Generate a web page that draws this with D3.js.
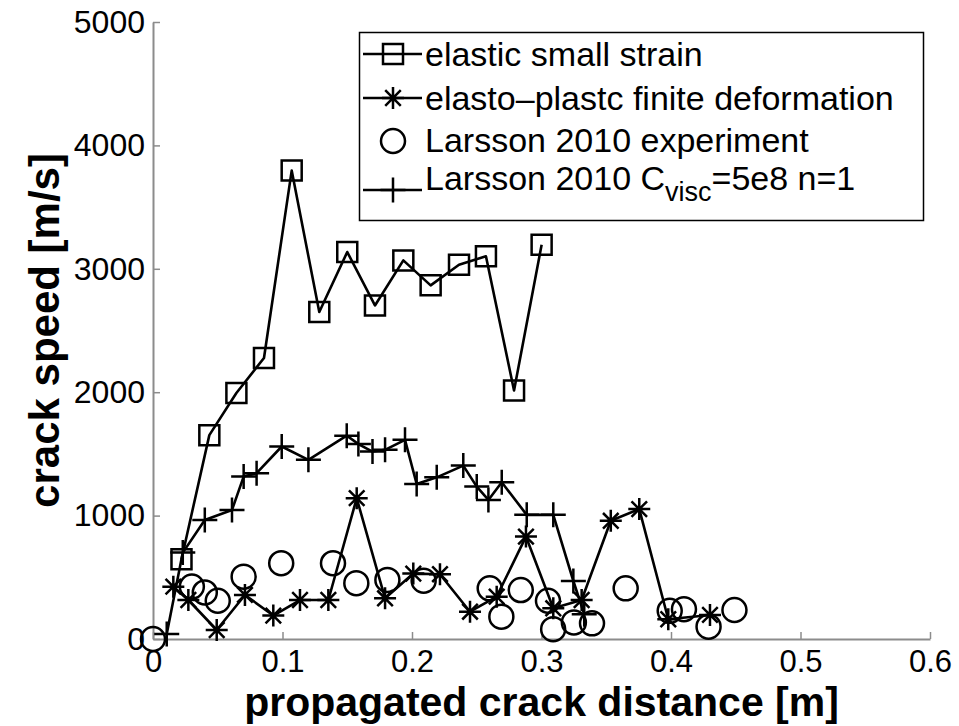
<!DOCTYPE html>
<html>
<head>
<meta charset="utf-8">
<script src="https://cdn.jsdelivr.net/npm/d3@7"></script>
<style>
  body { margin: 0; background: #fff; }
  svg { display: block; }
  text { font-family: "Liberation Sans", Arial, Helvetica, sans-serif; fill: #000; }
</style>
</head>
<body>
<svg id="chart" width="959" height="726"></svg>
<script>
// Crack speed versus propagated crack distance

// elastic small strain (squares)
const elasticX = [0.022, 0.0435, 0.0644, 0.0857, 0.1071, 0.1284, 0.150, 0.1714, 0.1933, 0.2144, 0.2363, 0.2571, 0.2788, 0.3001];
const elasticY = [646, 1652, 1993, 2277, 3796, 2650, 3136, 2703, 3068, 2866, 3033, 3101, 2014, 3195];

// elasto-plastic finite deformation (asterisks)
const plasticX = [0.0157, 0.0273, 0.0492, 0.071, 0.0929, 0.1135, 0.1354, 0.1573, 0.1792, 0.201, 0.2216, 0.2448, 0.2654, 0.288, 0.3091, 0.331, 0.3535, 0.3755, 0.3979, 0.4301];
const plasticY = [424, 316, 73, 357, 190, 316, 316, 1141, 330, 530, 525, 221, 343, 830, 249, 316, 958, 1053, 160, 195];

// Larsson 2010 experiment (circles, markers only)
const experimentX = [0, 0.030, 0.040, 0.050, 0.070, 0.099, 0.139, 0.157, 0.181, 0.209, 0.260, 0.269, 0.284, 0.305, 0.309, 0.325, 0.339, 0.365, 0.399, 0.410, 0.429, 0.449];
const experimentY = [0, 425, 377, 310, 505, 614, 614, 452, 479, 472, 411, 181, 397, 310, 80, 134, 127, 411, 228, 242, 100, 235];

// Larsson 2010 viscous model (plus signs)
const viscousX = [0.0106, 0.023, 0.040, 0.061, 0.070, 0.080, 0.0994, 0.120, 0.1496, 0.1586, 0.1695, 0.1792, 0.1946, 0.2036, 0.2191, 0.2396, 0.250, 0.259, 0.2693, 0.2886, 0.3091, 0.3246, 0.333];
const viscousY = [40, 700, 965, 1046, 1316, 1344, 1560, 1452, 1648, 1580, 1519, 1533, 1614, 1256, 1310, 1405, 1235, 1127, 1270, 1006, 1006, 470, 200];

// axis ticks
const xTicks = [0, 0.1, 0.2, 0.3, 0.4, 0.5, 0.6];
const xTickLabels = ["0", "0.1", "0.2", "0.3", "0.4", "0.5", "0.6"];
const yTicks = [0, 1000, 2000, 3000, 4000, 5000];
const yTickLabels = ["0", "1000", "2000", "3000", "4000", "5000"];

const svg = d3.select("#chart");

const x = d3.scaleLinear().domain([0, 0.6]).range([153, 930]);
const y = d3.scaleLinear().domain([0, 5000]).range([639, 22]);

const axisColor = "#8c8c8c";

// x axis
const gx = svg.append("g")
  .attr("transform", `translate(0,${y(0)})`)
  .call(d3.axisBottom(x)
    .tickValues(xTicks)
    .tickFormat((d, i) => xTickLabels[i])
    .tickSizeInner(-7)
    .tickSizeOuter(0)
    .tickPadding(11));
gx.select(".domain").attr("stroke", axisColor).attr("stroke-width", 2);
gx.selectAll(".tick line").attr("stroke", axisColor).attr("stroke-width", 1.5);
gx.selectAll(".tick text").attr("font-size", 31).attr("font-family", null);

// y axis
const gy = svg.append("g")
  .attr("transform", `translate(${x(0)},0)`)
  .call(d3.axisLeft(y)
    .tickValues(yTicks)
    .tickFormat((d, i) => yTickLabels[i])
    .tickSizeInner(-7)
    .tickSizeOuter(0)
    .tickPadding(8));
gy.select(".domain").attr("stroke", axisColor).attr("stroke-width", 2);
gy.selectAll(".tick line").attr("stroke", axisColor).attr("stroke-width", 1.5);
gy.selectAll(".tick text").attr("font-size", 32).attr("font-family", null);

// axis titles
svg.append("text")
  .attr("x", (x(0) + x(0.6)) / 2)
  .attr("y", 716)
  .attr("text-anchor", "middle")
  .attr("font-size", 41)
  .attr("font-weight", "bold")
  .text("propagated crack distance [m]");

svg.append("text")
  .attr("transform", `translate(59,${(y(0) + y(5000)) / 2}) rotate(-90)`)
  .attr("text-anchor", "middle")
  .attr("font-size", 42)
  .attr("font-weight", "bold")
  .text("crack speed [m/s]");

// marker shapes drawn as stroked outlines
const asteriskType = {
  draw(ctx, size) {
    const r = Math.sqrt(size) / 2;
    const d = r * Math.SQRT1_2;
    ctx.moveTo(-r, 0); ctx.lineTo(r, 0);
    ctx.moveTo(0, -r); ctx.lineTo(0, r);
    ctx.moveTo(-d, -d); ctx.lineTo(d, d);
    ctx.moveTo(-d, d); ctx.lineTo(d, -d);
  }
};
const plusType = {
  draw(ctx, size) {
    const r = Math.sqrt(size) / 2;
    ctx.moveTo(-r, 0); ctx.lineTo(r, 0);
    ctx.moveTo(0, -r); ctx.lineTo(0, r);
  }
};
const squareType = {
  draw(ctx, size) {
    const h = Math.sqrt(size) / 2;
    ctx.rect(-h, -h, 2 * h, 2 * h);
  }
};
const circleType = {
  draw(ctx, size) {
    const r = Math.sqrt(size) / 2;
    ctx.moveTo(r, 0);
    ctx.arc(0, 0, r, 0, 2 * Math.PI);
  }
};

const series = [
  { name: "elastic small strain", xs: elasticX, ys: elasticY, type: squareType, size: 20 * 20, line: true },
  { name: "elasto\u2013plastc finite deformation", xs: plasticX, ys: plasticY, type: asteriskType, size: 22 * 22, line: true },
  { name: "Larsson 2010 experiment", xs: experimentX, ys: experimentY, type: circleType, size: 24 * 24, line: false },
  { name: "visc", xs: viscousX, ys: viscousY, type: plusType, size: 25 * 25, line: true }
];

const lineGen = d3.line().x(d => x(d[0])).y(d => y(d[1]));
const plot = svg.append("g");

series.forEach(s => {
  const pts = s.xs.map((v, i) => [v, s.ys[i]]);
  const g = plot.append("g");
  if (s.line) {
    g.append("path")
      .datum(pts)
      .attr("d", lineGen)
      .attr("fill", "none")
      .attr("stroke", "#000")
      .attr("stroke-width", 2.6)
      .attr("stroke-linejoin", "round");
  }
  g.selectAll("path.mark")
    .data(pts)
    .join("path")
    .attr("class", "mark")
    .attr("transform", d => `translate(${x(d[0])},${y(d[1])})`)
    .attr("d", d3.symbol().type(s.type).size(s.size))
    .attr("fill", "none")
    .attr("stroke", "#000")
    .attr("stroke-width", 2.5);
});

// legend
const legend = svg.append("g");
legend.append("rect")
  .attr("x", 359.5).attr("y", 32.5)
  .attr("width", 564).attr("height", 188)
  .attr("fill", "#fff")
  .attr("stroke", "#000")
  .attr("stroke-width", 1.5);

const markerY = [54, 98, 141, 190];
const textY = [66, 110, 152, 190];
series.forEach((s, i) => {
  const cy = markerY[i];
  if (s.line) {
    legend.append("line")
      .attr("x1", 363).attr("x2", 422)
      .attr("y1", cy).attr("y2", cy)
      .attr("stroke", "#000").attr("stroke-width", 2.6);
  }
  legend.append("path")
    .attr("transform", `translate(393,${cy})`)
    .attr("d", d3.symbol().type(s.type).size(s.size))
    .attr("fill", "none")
    .attr("stroke", "#000")
    .attr("stroke-width", 2.5);
});

const legendFont = 34;
[0, 1, 2].forEach(i => {
  legend.append("text")
    .attr("x", 425)
    .attr("y", textY[i])
    .attr("font-size", legendFont)
    .text(series[i].name);
});
const t4 = legend.append("text")
  .attr("x", 425)
  .attr("y", textY[3])
  .attr("font-size", legendFont);
t4.append("tspan").text("Larsson 2010 C");
t4.append("tspan").attr("font-size", 27).attr("dy", 11).text("visc");
t4.append("tspan").attr("dy", -11).text("=5e8 n=1");
</script>
</body>
</html>
